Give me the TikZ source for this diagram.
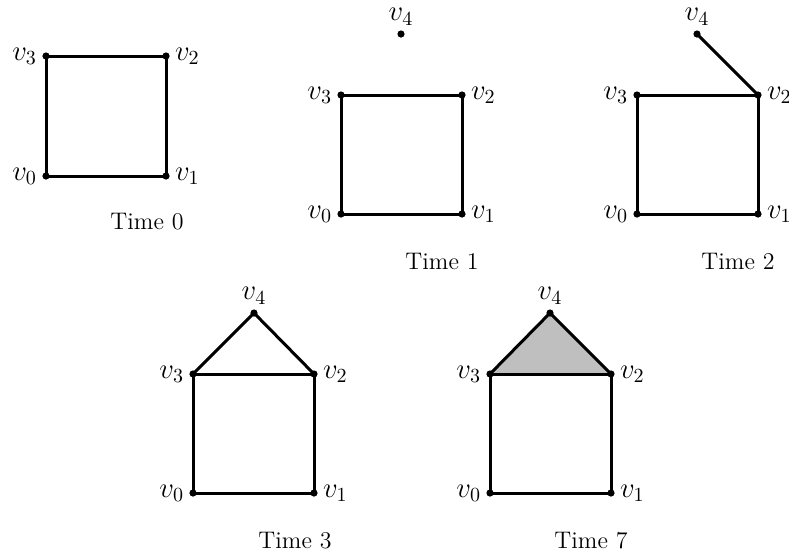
\documentclass[tikz,border=0pt]{standalone}
\begin{document}
\begin{tikzpicture}[x=0.5pt,y=-0.5pt,
  vtx/.style={circle,fill=black,inner sep=0pt,minimum size=3.6pt},
  every label/.style={font=\Large,inner sep=2.3pt},
  label distance=0pt,
  edge/.style={line width=1.5pt},
  lbl/.style={font=\large}]
\useasboundingbox (0,0) rectangle (789,554);
% Time 0
\node[vtx,label=left:$v_3$] (a3) at (46,56) {};
\node[vtx,label=right:$v_2$] (a2) at (166,56) {};
\node[vtx,label=left:$v_0$] (a0) at (46,176) {};
\node[vtx,label=right:$v_1$] (a1) at (166,176) {};
\draw[edge] (a0.center) -- (a1.center) -- (a2.center) -- (a3.center) -- cycle;
\node[lbl] (t0) at (147,222) {Time 0};
% Time 1
\node[vtx,label=left:$v_3$] (b3) at (341,95) {};
\node[vtx,label=right:$v_2$] (b2) at (462,95) {};
\node[vtx,label=left:$v_0$] (b0) at (341,214) {};
\node[vtx,label=right:$v_1$] (b1) at (462,214) {};
\node[vtx,label=above:$v_4$] (b4) at (401,34) {};
\draw[edge] (b0.center) -- (b1.center) -- (b2.center) -- (b3.center) -- cycle;
\node[lbl] (t1) at (442,261) {Time 1};
% Time 2
\node[vtx,label=left:$v_3$] (c3) at (637,95) {};
\node[vtx,label=right:$v_2$] (c2) at (758,95) {};
\node[vtx,label=left:$v_0$] (c0) at (637,214) {};
\node[vtx,label=right:$v_1$] (c1) at (758,214) {};
\node[vtx,label=above:$v_4$] (c4) at (697,34) {};
\draw[edge] (c0.center) -- (c1.center) -- (c2.center) -- (c3.center) -- cycle;
\draw[edge] (c4.center) -- (c2.center);
\node[lbl] (t2) at (738,261) {Time 2};
% Time 3
\node[vtx,label=left:$v_3$] (d3) at (193,374) {};
\node[vtx,label=right:$v_2$] (d2) at (314,374) {};
\node[vtx,label=left:$v_0$] (d0) at (193,493) {};
\node[vtx,label=right:$v_1$] (d1) at (314,493) {};
\node[vtx,label=above:$v_4$] (d4) at (254,313) {};
\draw[edge] (d0.center) -- (d1.center) -- (d2.center) -- (d3.center) -- cycle;
\draw[edge] (d3.center) -- (d4.center) -- (d2.center);
\node[lbl] (t3) at (295,541) {Time 3};
% Time 7
\fill[gray!50] (490,374) -- (550,313) -- (611,374) -- cycle;
\node[vtx,label=left:$v_3$] (e3) at (490,374) {};
\node[vtx,label=right:$v_2$] (e2) at (611,374) {};
\node[vtx,label=left:$v_0$] (e0) at (490,493) {};
\node[vtx,label=right:$v_1$] (e1) at (611,493) {};
\node[vtx,label=above:$v_4$] (e4) at (550,313) {};
\draw[edge] (e0.center) -- (e1.center) -- (e2.center) -- (e3.center) -- cycle;
\draw[edge] (e3.center) -- (e4.center) -- (e2.center);
\node[lbl] (t7) at (591,541) {Time 7};
\end{tikzpicture}
\end{document}
